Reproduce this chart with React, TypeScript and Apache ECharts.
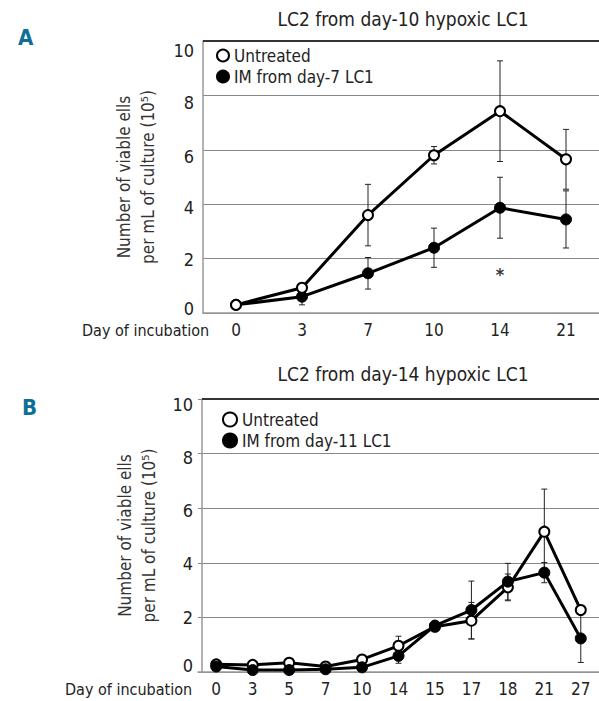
import React, { useEffect, useRef } from "react";
import * as echarts from "echarts";

// ---------- Data ----------
const daysA = ["0", "3", "7", "10", "14", "21"];
const untreatedA = [0.3, 0.93, 3.6, 5.8, 7.42, 5.65];
const untreatedA_sd = [0, 0.08, 1.13, 0.32, 1.85, 1.1];
const imA = [0.3, 0.6, 1.46, 2.4, 3.87, 3.44];
const imA_sd = [0, 0.3, 0.58, 0.72, 1.12, 1.05];
const starA = [[4, 1.42]];

const daysB = ["0", "3", "5", "7", "10", "14", "15", "17", "18", "21", "27"];
const untreatedB = [0.28, 0.26, 0.34, 0.2, 0.46, 0.96, 1.66, 1.88, 3.1, 5.14, 2.27];
const untreatedB_sd = [0, 0, 0, 0, 0.1, 0.35, 0.15, 0.67, 0.49, 1.56, 0];
const imB = [0.2, 0.07, 0.07, 0.1, 0.17, 0.59, 1.7, 2.27, 3.31, 3.64, 1.23];
const imB_sd = [0, 0, 0, 0, 0.05, 0.27, 0.15, 1.06, 0.67, 0.37, 0.88];

const yTicks = [0, 2, 4, 6, 8, 10];

const titleA = "LC2 from day-10 hypoxic LC1";
const titleB = "LC2 from day-14 hypoxic LC1";
const yName = "Number of viable ells\nper mL of culture (10\u2075)";
const xName = "Day of incubation";
const nameUntreated = "Untreated";
const nameImA = "IM from day-7 LC1";
const nameImB = "IM from day-11 LC1";

// ---------- Styling ----------
const FONT = "'Liberation Sans Narrow', 'DejaVu Sans Condensed', 'Roboto Condensed', 'Liberation Sans', sans-serif";
const TEXT = "#222";
const TEAL = "#0f6e96";
// vertical nudge (px, + = down) of the y tick labels, per tick 0,2,4,6,8,10 (as in the original figure)
const labelShiftA = [-5, 1, 3, 7, 7, 9];
const labelShiftB = [-7, 0, 1, 2, 4, 5];

function errData(vals: number[], sd: number[]) {
  const out: number[][] = [];
  vals.forEach((v, i) => {
    if (sd[i] > 0) out.push([i, v - sd[i], v + sd[i]]);
  });
  return out;
}

function renderErr(params: any, api: any) {
  const x = api.value(0);
  const lo = api.coord([x, api.value(1)]);
  const hi = api.coord([x, api.value(2)]);
  const w = 3;
  const style = { stroke: "#222", lineWidth: 1 };
  return {
    type: "group",
    children: [
      { type: "line", shape: { x1: lo[0], y1: lo[1], x2: hi[0], y2: hi[1] }, style },
      { type: "line", shape: { x1: lo[0] - w, y1: lo[1], x2: lo[0] + w, y2: lo[1] }, style },
      { type: "line", shape: { x1: hi[0] - w, y1: hi[1], x2: hi[0] + w, y2: hi[1] }, style },
    ],
  };
}

function yAxisCfg(gridIndex: number, nameGap: number, offset: number, shifts: number[]) {
  const rich: any = {};
  yTicks.forEach((t, i) => {
    const s = shifts[i];
    rich["t" + t] = {
      fontFamily: FONT,
      fontSize: 18,
      color: TEXT,
      padding: s >= 0 ? [2 * s, 0, 0, 0] : [0, 0, -2 * s, 0],
    };
  });
  return {
    type: "value",
    gridIndex,
    min: 0,
    max: 10,
    interval: 2,
    offset,
    name: yName,
    nameLocation: "middle",
    nameRotate: 90,
    nameGap,
    nameTextStyle: { fontFamily: FONT, fontSize: 17, color: "#333", lineHeight: 24 },
    axisLine: { show: true, lineStyle: { color: "#999", width: 1.5 } },
    axisTick: { show: false },
    axisLabel: {
      fontFamily: FONT,
      fontSize: 18,
      color: TEXT,
      margin: 9,
      formatter: (v: number) => (yTicks.includes(v) ? `{t${v}|${v}}` : ""),
      rich,
    },
    splitLine: {
      show: true,
      lineStyle: { color: "#888", width: 1 },
    },
  };
}

function xAxisCfg(gridIndex: number, data: string[]) {
  return {
    type: "category",
    gridIndex,
    data,
    boundaryGap: true,
    axisLine: { show: true, lineStyle: { color: "#999", width: 1.5 } },
    axisTick: { show: false },
    axisLabel: { fontFamily: FONT, fontSize: 17, color: TEXT, margin: 8, interval: 0 },
    splitLine: { show: false },
  };
}

const openStyle = { color: "#fff", borderColor: "#000", borderWidth: 2 };
const fillStyle = { color: "#000", borderColor: "#000", borderWidth: 1 };

export default function App() {
  const ref = useRef<HTMLDivElement>(null);
  useEffect(() => {
    if (!ref.current) return;
    const chart = echarts.init(ref.current, null, { renderer: "svg" });
    const option: any = {
      animation: false,
      backgroundColor: "#fff",
      textStyle: { fontFamily: FONT },
      title: [
        { text: titleA, left: 398, top: 4, textAlign: "center", textStyle: { fontFamily: FONT, fontSize: 19, fontWeight: "normal", color: TEXT } },
        { text: titleB, left: 398, top: 359, textAlign: "center", textStyle: { fontFamily: FONT, fontSize: 19, fontWeight: "normal", color: TEXT } },
        { text: "A", left: 13, top: 21, textStyle: { fontFamily: FONT, fontSize: 22, fontWeight: "bold", color: TEAL } },
        { text: "B", left: 17, top: 391, textStyle: { fontFamily: FONT, fontSize: 22, fontWeight: "bold", color: TEAL } },
      ],
      legend: [
        {
          orient: "vertical",
          left: 211,
          top: 42,
          icon: "circle",
          itemWidth: 12,
          itemHeight: 12,
          itemGap: 4,
          textStyle: { fontFamily: FONT, fontSize: 17, color: TEXT },
          data: [nameUntreated, nameImA],
          selectedMode: false,
        },
        {
          orient: "vertical",
          left: 217,
          top: 406,
          icon: "circle",
          itemWidth: 14,
          itemHeight: 14,
          itemGap: 4,
          textStyle: { fontFamily: FONT, fontSize: 17, color: TEXT },
          data: [nameUntreated, nameImB],
          selectedMode: false,
        },
      ],
      grid: [
        { left: 203, top: 41, width: 400, height: 272 },
        { left: 198, top: 399, width: 406, height: 273 },
      ],
      xAxis: [xAxisCfg(0, daysA), xAxisCfg(1, daysB)],
      yAxis: [yAxisCfg(0, 43, 0, labelShiftA), yAxisCfg(1, 33, -4, labelShiftB)],
      graphic: [
        { type: "text", left: 82, top: 322, style: { text: xName, font: `16px ${FONT}`, fill: TEXT } },
        { type: "text", left: 65, top: 681, style: { text: xName, font: `16px ${FONT}`, fill: TEXT } },
        // top borders of plots
        { type: "line", shape: { x1: 203, y1: 41, x2: 599, y2: 41 }, style: { stroke: "#333", lineWidth: 2 }, z: 10 },
        { type: "line", shape: { x1: 202, y1: 399, x2: 599, y2: 399 }, style: { stroke: "#333", lineWidth: 2 }, z: 10 },
      ],
      series: [
        {
          type: "custom", xAxisIndex: 0, yAxisIndex: 0, renderItem: renderErr,
          data: errData(untreatedA, untreatedA_sd), encode: { x: 0, y: [1, 2] }, z: 1, silent: true,
        },
        {
          type: "custom", xAxisIndex: 0, yAxisIndex: 0, renderItem: renderErr,
          data: errData(imA, imA_sd), encode: { x: 0, y: [1, 2] }, z: 1, silent: true,
        },
        {
          name: nameImA, type: "line", xAxisIndex: 0, yAxisIndex: 0, data: imA,
          symbol: "circle", symbolSize: 11, showAllSymbol: true,
          lineStyle: { color: "#000", width: 3 }, itemStyle: fillStyle, z: 3,
        },
        {
          name: nameUntreated, type: "line", xAxisIndex: 0, yAxisIndex: 0, data: untreatedA,
          symbol: "circle", symbolSize: 10, showAllSymbol: true,
          lineStyle: { color: "#000", width: 3 }, itemStyle: openStyle, z: 4,
        },
        {
          type: "scatter", xAxisIndex: 0, yAxisIndex: 0, data: starA, symbolSize: 1,
          itemStyle: { color: "rgba(0,0,0,0)" },
          label: { show: true, position: "inside", formatter: "*", fontSize: 18, fontWeight: "bold", color: "#000", fontFamily: FONT },
          silent: true,
        },
        {
          type: "custom", xAxisIndex: 1, yAxisIndex: 1, renderItem: renderErr,
          data: errData(untreatedB, untreatedB_sd), encode: { x: 0, y: [1, 2] }, z: 1, silent: true,
        },
        {
          type: "custom", xAxisIndex: 1, yAxisIndex: 1, renderItem: renderErr,
          data: errData(imB, imB_sd), encode: { x: 0, y: [1, 2] }, z: 1, silent: true,
        },
        {
          name: nameUntreated, type: "line", xAxisIndex: 1, yAxisIndex: 1, data: untreatedB,
          symbol: "circle", symbolSize: 10, showAllSymbol: true,
          lineStyle: { color: "#000", width: 3 }, itemStyle: openStyle, z: 3,
        },
        {
          name: nameImB, type: "line", xAxisIndex: 1, yAxisIndex: 1, data: imB,
          symbol: "circle", symbolSize: 11, showAllSymbol: true,
          lineStyle: { color: "#000", width: 3 }, itemStyle: fillStyle, z: 4,
        },
      ],
    };
    chart.setOption(option);
    return () => chart.dispose();
  }, []);
  return (
    <div
      ref={ref}
      style={{ position: "absolute", left: 0, top: 0, width: 599, height: 701, background: "#fff" }}
    />
  );
}
